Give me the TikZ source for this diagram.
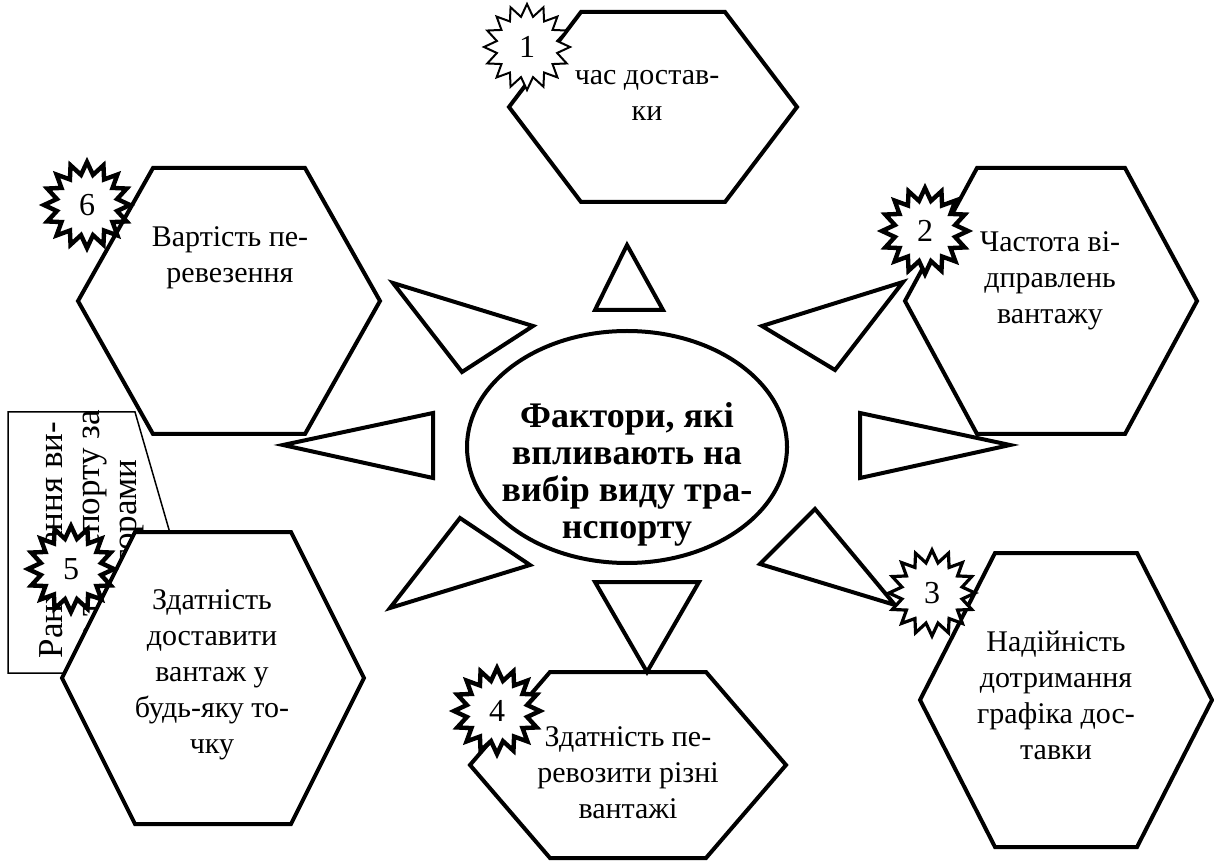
\documentclass[tikz,border=0pt]{standalone}
\usepackage{fontspec}
\setmainfont{Liberation Serif}
\usetikzlibrary{shapes.geometric}

\tikzset{
	hexa/.style={draw=black, fill=white, line width=2pt, line join=miter},
	wedge/.style={draw=black, fill=white, line width=2pt, line join=miter},
	burst/.style={star, star points=16, star point ratio=1.4, draw=black, fill=white,
		line width=2.2pt, minimum size=43pt, inner sep=0pt, font=\fontsize{16}{18}\selectfont},
	factor/.style={align=center, inner sep=0pt, font=\fontsize{15}{18}\selectfont}
}

\begin{document}
\begin{tikzpicture}[x=0.5pt, y=-0.5pt]
		\useasboundingbox (0,0) rectangle (1214,865);
		% box on the left, mostly hidden
		\filldraw[draw=black, fill=white, line width=0.75pt] (8,412) -- (135,412) -- (172,540) -- (172,673) -- (8,673) -- cycle;
		\node[factor, rotate=90, font=\fontsize{17.5}{18.5}\selectfont] (rank) at (92,540)
			{Ранжування ви-\\дів транспорту за\\факторами};
		% hexagons
		\foreach \cx/\cy/\R/\t/\h in {653/107/144/72/95, 229/301/151/76/133, 1051/301/146/74/133,
			1066/700/146/71/147, 628/765/158/78/93, 213/678/151/78/146}
			\filldraw[hexa] (\cx-\R,\cy) -- (\cx-\t,\cy-\h) -- (\cx+\t,\cy-\h) -- (\cx+\R,\cy)
				-- (\cx+\t,\cy+\h) -- (\cx-\t,\cy+\h) -- cycle;
		% triangles round the centre
		\filldraw[wedge] (627,245) -- (595,310) -- (663,310) -- cycle;
		\filldraw[wedge] (393,283) -- (533,326) -- (462,372) -- cycle;
		\filldraw[wedge] (762,326) -- (903,282) -- (835,370) -- cycle;
		\filldraw[wedge] (283,445) -- (433,413) -- (433,478) -- cycle;
		\filldraw[wedge] (1010,445) -- (860,413) -- (860,478) -- cycle;
		\filldraw[wedge] (390,608) -- (460,518) -- (530,565) -- cycle;
		\filldraw[wedge] (595,582) -- (699,582) -- (647,672) -- cycle;
		\filldraw[wedge] (760,564) -- (815,509) -- (895,605) -- cycle;
		% centre
		\filldraw[draw=black, fill=white, line width=2pt] (627,447) ellipse (160 and 116);
		\node[factor, font=\bfseries\fontsize{18}{18.5}\selectfont] (factors) at (627,474)
			{Фактори, які\\впливають на\\вибір виду тра-\\нспорту};
		% texts in the hexagons
		\node[factor] (time) at (647,95) {час достав-\\ки};
		\node[factor] (cost) at (230,258) {Вартість пе-\\ревезення};
		\node[factor] (freq) at (1050,281) {Частота ві-\\дправлень\\вантажу};
		\node[factor] (reliab) at (1056,695) {Надійність\\дотримання\\графіка дос-\\тавки};
		\node[factor] (cargo) at (628,773) {Здатність пе-\\ревозити різні\\вантажі};
		\node[factor] (reach) at (212,675) {Здатність\\доставити\\вантаж у\\будь-яку то-\\чку};
		% numbered stars
		\node[burst, line width=1pt] (s1) at (527,47) {1};
		\node[burst] (s2) at (925,231) {2};
		\node[burst, line width=1.6pt] (s3) at (932,593) {3};
		\node[burst] (s4) at (497,711) {4};
		\node[burst] (s5) at (71,569) {5};
		\node[burst] (s6) at (87,205) {6};
	\end{tikzpicture}
\end{document}
